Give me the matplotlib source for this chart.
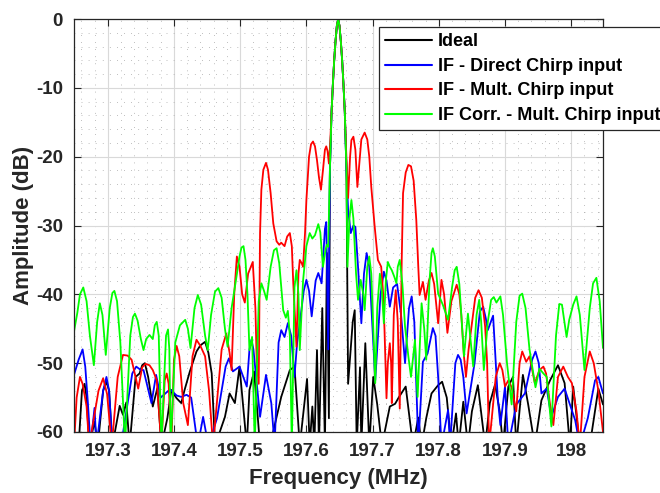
import matplotlib
matplotlib.use("Agg")
import matplotlib.pyplot as plt
from matplotlib.ticker import MultipleLocator, FixedLocator

plt.rcParams['font.family'] = ['Liberation Sans', 'DejaVu Sans']
plt.rcParams['font.weight'] = 'bold'
plt.rcParams['axes.unicode_minus'] = False

# Spectrum traces (frequency in MHz, amplitude in dB); values below -60 are nulls
freq_ideal = [197.249, 197.256, 197.261, 197.265, 197.268, 197.272, 197.280, 197.285,
              197.293, 197.298, 197.302, 197.307, 197.318, 197.323, 197.328, 197.333,
              197.342, 197.348, 197.352, 197.356, 197.361, 197.368, 197.375, 197.381,
              197.390, 197.396, 197.404, 197.411, 197.416, 197.424, 197.434, 197.440,
              197.447, 197.452, 197.457, 197.462, 197.477, 197.484, 197.492, 197.499,
              197.510, 197.514, 197.521, 197.530, 197.545, 197.562, 197.575, 197.582,
              197.590, 197.601, 197.605, 197.609, 197.612, 197.616, 197.619, 197.624,
              197.628, 197.631, 197.634, 197.6355, 197.638, 197.640, 197.642, 197.644,
              197.646, 197.648, 197.650, 197.652, 197.654, 197.656, 197.658, 197.6605,
              197.663, 197.670, 197.673, 197.676, 197.681, 197.683, 197.689, 197.695,
              197.701, 197.707, 197.714, 197.726, 197.734, 197.740, 197.750, 197.761,
              197.769, 197.774, 197.781, 197.789, 197.799, 197.805, 197.812, 197.819,
              197.826, 197.830, 197.837, 197.844, 197.850, 197.859, 197.870, 197.877,
              197.885, 197.892, 197.897, 197.905, 197.912, 197.917, 197.927, 197.935,
              197.945, 197.955, 197.968, 197.980, 197.990, 197.998, 198.003, 198.013,
              198.028, 198.041, 198.048]
amp_ideal = [-66, -62, -54, -53, -55, -62, -58.5, -62,
             -54, -52.7, -54, -62, -56.2, -57.5, -55.7, -62,
             -52, -51.5, -50.3, -50, -52, -56.3, -53.6, -62,
             -58, -53.9, -55.1, -55.8, -53.9, -51.2, -48.3, -47.4,
             -46.9, -48.5, -51.5, -62, -57.8, -54.4, -55.8, -50.5,
             -62, -53.9, -51.2, -62, -62, -54.9, -51, -50.5,
             -62, -52.3, -62, -56.3, -62, -48.1, -62, -42.0,
             -62, -34, -58, -22, -13.5, -9.5, -6, -3.2,
             -1.0, 0, -1.0, -3.2, -6, -9.5, -13.5, -22,
             -53, -44, -42.3, -62, -50.6, -62, -47.1, -62,
             -52, -56, -62, -56.3, -55.9, -54.9, -53.4, -62,
             -57.9, -62, -58, -54.4, -53.2, -52.7, -55, -62,
             -57.3, -62, -55.6, -62, -57, -53.2, -62, -55.8,
             -53.1, -57, -62, -53.4, -52, -62, -51.7, -56,
             -62, -55.4, -52.5, -50.3, -52.9, -62, -53.4, -62,
             -62, -53.7, -56]

freq_direct = [197.249, 197.256, 197.262, 197.266, 197.270, 197.274, 197.280, 197.283,
               197.293, 197.298, 197.302, 197.307, 197.320, 197.337, 197.343, 197.350,
               197.354, 197.366, 197.373, 197.380, 197.394, 197.404, 197.411, 197.419,
               197.426, 197.436, 197.444, 197.452, 197.465, 197.478, 197.483, 197.489,
               197.499, 197.510, 197.514, 197.517, 197.520, 197.522, 197.530, 197.539,
               197.547, 197.552, 197.558, 197.562, 197.567, 197.572, 197.577, 197.582,
               197.586, 197.590, 197.596, 197.600, 197.604, 197.608, 197.614, 197.618,
               197.623, 197.628, 197.630, 197.633, 197.6355, 197.638, 197.640, 197.642,
               197.644, 197.646, 197.648, 197.650, 197.652, 197.654, 197.656, 197.658,
               197.6605, 197.663, 197.667, 197.671, 197.674, 197.678, 197.683, 197.687,
               197.691, 197.695, 197.704, 197.712, 197.717, 197.721, 197.726, 197.731,
               197.737, 197.743, 197.749, 197.755, 197.759, 197.763, 197.769, 197.776,
               197.783, 197.791, 197.795, 197.799, 197.804, 197.814, 197.817, 197.825,
               197.829, 197.833, 197.837, 197.842, 197.854, 197.862, 197.867, 197.871,
               197.874, 197.882, 197.889, 197.893, 197.900, 197.905, 197.917, 197.930,
               197.941, 197.946, 197.951, 197.955, 197.963, 197.970, 197.980, 197.990,
               198.006, 198.013, 198.025, 198.036, 198.041, 198.048]
amp_direct = [-51.7, -49.5, -48.0, -50.5, -55.8, -62, -56.5, -62,
              -54, -52, -54, -62, -62, -51.5, -50.5, -51,
              -51, -55.8, -51.7, -55, -53.8, -54.7, -54.9, -54.6,
              -55, -62, -57.8, -62, -58, -50.5, -49.3, -51.2,
              -50.5, -53.4, -48, -46.6, -48, -50, -57.8, -51.7,
              -55.8, -62, -47, -45.2, -46.2, -44.2, -46, -52,
              -47, -44.2, -39.5, -37.9, -39.5, -43.2, -38, -36.9,
              -38.4, -30.5, -29.5, -48, -22, -13.5, -9.5, -6,
              -3.2, -1.0, 0, -1.0, -3.2, -6, -9.5, -13.5,
              -22, -27.7, -31.1, -30, -30.2, -36, -44.2, -37,
              -34.0, -36, -52.5, -40, -36.7, -38, -41.8, -39,
              -38.5, -43, -50, -42, -40.3, -44, -62, -49.8,
              -48.6, -44.9, -46, -52, -62, -56.8, -62, -50,
              -48.8, -49.5, -52, -57.3, -50, -42.5, -41.8, -43.5,
              -45.2, -43.1, -55, -59, -53.4, -62, -56, -54.4,
              -49.5, -48.3, -50, -54.4, -53.7, -57.8, -54.9, -53.7,
              -58.3, -62, -58, -52.5, -52, -54.4]

freq_mult = [197.249, 197.253, 197.258, 197.262, 197.268, 197.272, 197.286, 197.293,
             197.299, 197.306, 197.315, 197.323, 197.330, 197.336, 197.342, 197.346,
             197.352, 197.357, 197.363, 197.368, 197.374, 197.381, 197.386, 197.389,
             197.392, 197.396, 197.400, 197.404, 197.408, 197.414, 197.421, 197.428,
             197.434, 197.440, 197.447, 197.453, 197.459, 197.472, 197.479, 197.484,
             197.487, 197.491, 197.495, 197.499, 197.503, 197.507, 197.512, 197.519,
             197.523, 197.525, 197.528, 197.530, 197.532, 197.535, 197.539, 197.542,
             197.546, 197.550, 197.555, 197.559, 197.562, 197.567, 197.571, 197.575,
             197.578, 197.580, 197.585, 197.588, 197.590, 197.593, 197.595, 197.598,
             197.600, 197.604, 197.607, 197.610, 197.613, 197.616, 197.619, 197.622,
             197.625, 197.628, 197.630, 197.632, 197.634, 197.636, 197.638, 197.640,
             197.642, 197.644, 197.646, 197.648, 197.650, 197.652, 197.654, 197.656,
             197.658, 197.660, 197.663, 197.666, 197.668, 197.671, 197.674, 197.677,
             197.680, 197.683, 197.688, 197.692, 197.695, 197.698, 197.703, 197.708,
             197.713, 197.716, 197.718, 197.721, 197.723, 197.726, 197.728, 197.729,
             197.732, 197.735, 197.738, 197.741, 197.744, 197.746, 197.750, 197.754,
             197.758, 197.762, 197.766, 197.769, 197.771, 197.776, 197.780, 197.785,
             197.789, 197.793, 197.799, 197.804, 197.808, 197.813, 197.819, 197.827,
             197.831, 197.834, 197.838, 197.841, 197.845, 197.849, 197.855, 197.860,
             197.865, 197.870, 197.873, 197.876, 197.886, 197.892, 197.896, 197.900,
             197.905, 197.910, 197.917, 197.922, 197.926, 197.932, 197.937, 197.945,
             197.952, 197.958, 197.962, 197.968, 197.973, 197.980, 197.988, 197.995,
             198.001, 198.008, 198.013, 198.020, 198.028, 198.034, 198.041, 198.048]
amp_mult = [-62, -55, -52.0, -53, -56.3, -62, -54, -52.2,
            -54.5, -62, -52, -48.8, -48.9, -49.5, -52, -53.7,
            -50.6, -50.1, -50.3, -51.0, -52.5, -62, -52.5, -51.5,
            -53, -62, -49.5, -47.5, -49, -55.8, -59, -49,
            -46.6, -47.5, -49, -54, -62, -48, -45.7, -48.5,
            -51, -40, -34.5, -36, -40, -41.2, -37, -35.3,
            -42, -50, -53, -31.1, -24.8, -21.9, -20.9, -21.9,
            -25.3, -29.7, -32.3, -32.8, -32.5, -33, -31.6, -31.1,
            -33, -38, -47.6, -37, -35.0, -35.5, -36.0, -31,
            -26.3, -20, -18.2, -17.8, -18.5, -20.5, -23, -24.8,
            -22, -19, -18.5, -19.2, -21, -18, -13.5, -9.5,
            -6, -3.2, -1.0, 0, -1.0, -3.2, -6, -9.5,
            -13.5, -19, -26, -20, -17.6, -17.1, -19, -24.4,
            -21, -17.5, -16.5, -17.5, -20, -24.4, -30, -35.0,
            -36.0, -40, -45.2, -55.1, -50, -47.1, -50, -55.8,
            -43, -39.4, -44, -56.6, -35, -25.3, -22.3, -21.2,
            -21.4, -23.5, -29.2, -36, -40.1, -38.2, -40.8, -38,
            -36.9, -38.5, -44.2, -37.9, -40, -45.6, -41.0, -38.6,
            -40, -43, -49, -52, -48, -45, -40.5, -39.4,
            -40.5, -44.7, -50, -62, -52, -50, -51, -53.4,
            -52.5, -53.5, -57, -50, -48.3, -49.8, -49, -52.9,
            -51, -50.5, -51.5, -56, -59, -52, -50.5, -52,
            -52.9, -57, -62, -52, -48.3, -50, -54, -60]

freq_corr = [197.249, 197.254, 197.258, 197.263, 197.268, 197.273, 197.279, 197.284,
             197.288, 197.292, 197.297, 197.303, 197.307, 197.310, 197.314, 197.319,
             197.326, 197.334, 197.338, 197.341, 197.345, 197.350, 197.354, 197.358,
             197.363, 197.368, 197.371, 197.374, 197.377, 197.381, 197.388, 197.391,
             197.393, 197.395, 197.402, 197.409, 197.417, 197.421, 197.425, 197.431,
             197.436, 197.441, 197.447, 197.451, 197.456, 197.462, 197.467, 197.472,
             197.477, 197.481, 197.487, 197.494, 197.499, 197.502, 197.505, 197.508,
             197.511, 197.514, 197.518, 197.522, 197.528, 197.532, 197.536, 197.540,
             197.546, 197.551, 197.555, 197.559, 197.565, 197.569, 197.572, 197.575,
             197.578, 197.582, 197.585, 197.588, 197.590, 197.595, 197.600, 197.605,
             197.609, 197.613, 197.618, 197.621, 197.625, 197.629, 197.631, 197.633,
             197.6355, 197.638, 197.640, 197.642, 197.644, 197.646, 197.648, 197.650,
             197.652, 197.654, 197.656, 197.658, 197.6605, 197.662, 197.665, 197.668,
             197.671, 197.675, 197.678, 197.682, 197.686, 197.688, 197.692, 197.695,
             197.698, 197.701, 197.704, 197.707, 197.711, 197.714, 197.717, 197.720,
             197.723, 197.726, 197.729, 197.733, 197.736, 197.738, 197.741, 197.745,
             197.749, 197.754, 197.758, 197.764, 197.768, 197.774, 197.778, 197.781,
             197.786, 197.789, 197.791, 197.794, 197.799, 197.806, 197.814, 197.820,
             197.824, 197.827, 197.831, 197.838, 197.844, 197.852, 197.857, 197.861,
             197.864, 197.868, 197.874, 197.879, 197.883, 197.887, 197.893, 197.897,
             197.903, 197.910, 197.917, 197.922, 197.926, 197.931, 197.937, 197.946,
             197.952, 197.958, 197.963, 197.970, 197.977, 197.982, 197.986, 197.993,
             197.997, 198.003, 198.008, 198.013, 198.020, 198.028, 198.033, 198.038,
             198.043, 198.048]
amp_corr = [-45.4, -42.7, -40, -39.0, -41, -46, -50.3, -44,
            -41.3, -43, -48.8, -42, -39.8, -39.5, -41, -47,
            -62, -46, -43.3, -42.8, -43.8, -46.5, -48.1, -46.5,
            -45.9, -46.5, -44.5, -44.0, -46, -62, -46, -45.1,
            -48, -62, -47, -44.5, -43.7, -45, -47.8, -42,
            -40.1, -41.5, -46, -48.1, -43, -39.6, -39.1, -40.5,
            -45, -47.6, -42, -37.7, -34.5, -33.2, -33.0, -35,
            -40, -48.1, -46.2, -62, -41, -38.4, -39.5, -40.8,
            -36, -33.6, -33.3, -35.5, -42.3, -43.4, -42.4, -46,
            -62, -39, -36.5, -40, -48.1, -38, -33, -31.1,
            -31.9, -31.4, -29.8, -31, -36.0, -33.5, -32.8, -33.1,
            -22, -13.5, -9.5, -6, -3.2, -1.0, 0, -1.0,
            -3.2, -6, -9.5, -13.5, -22, -36, -29, -26.3,
            -29, -37, -40.8, -37.9, -40, -42.3, -36, -34.5,
            -37, -45, -52.9, -42, -37.0, -39.5, -44.2, -38,
            -35.3, -36, -36.5, -37.5, -38.4, -36, -35.0, -38.5,
            -44.7, -49, -52.0, -46.6, -54.9, -41.3, -45, -49.5,
            -38, -34, -33.3, -34.5, -39.9, -41.5, -43.7, -39,
            -36.5, -36.0, -38.5, -49, -42.8, -50.5, -43, -40.8,
            -44, -51, -44, -40.8, -40.4, -41.2, -40.3, -43,
            -50, -56, -44, -40.2, -39.9, -42, -48, -53.5,
            -50.8, -51.5, -52, -59.2, -46, -41.4, -41.5, -46.2,
            -43.7, -41.5, -40.3, -43, -51, -42, -38.4, -37.6,
            -41, -47.8]

series_labels = ['Ideal', 'IF - Direct Chirp input', 'IF - Mult. Chirp input',
                 'IF Corr. - Mult. Chirp input']
series_colors = ['#000000', '#0000ff', '#ff0000', '#00ff00']

x_ticks = [197.3, 197.4, 197.5, 197.6, 197.7, 197.8, 197.9, 198.0]
x_tick_labels = ['197.3', '197.4', '197.5', '197.6', '197.7', '197.8', '197.9', '198']
y_ticks = [-60, -50, -40, -30, -20, -10, 0]

fig = plt.figure(figsize=(6.6, 4.93), dpi=100)
ax = fig.add_axes([74 / 660, 61 / 493, 529 / 660, 413 / 493])

traces = [(freq_ideal, amp_ideal), (freq_direct, amp_direct),
          (freq_mult, amp_mult), (freq_corr, amp_corr)]
for (f, a), lab, col in zip(traces, series_labels, series_colors):
    ax.plot(f, a, color=col, lw=1.3, label=lab,
            solid_joinstyle='round', solid_capstyle='round')

ax.set_xlim(197.249, 198.048)
ax.set_ylim(-60, 0)
ax.xaxis.set_major_locator(FixedLocator(x_ticks))
ax.set_xticklabels(x_tick_labels)
ax.yaxis.set_major_locator(FixedLocator(y_ticks))
ax.xaxis.set_minor_locator(MultipleLocator(0.02))
ax.yaxis.set_minor_locator(MultipleLocator(2))

ax.grid(True, which='major', color='#d9d9d9', lw=0.8, ls='-')
ax.grid(True, which='minor', color='#a8a8a8', lw=0.6, ls=(0, (1, 7.5)))
ax.set_axisbelow(True)

ax.tick_params(which='major', direction='in', length=5, width=0.8,
               top=True, right=True, labelsize=13.5, colors='#262626', pad=8)
ax.tick_params(which='minor', length=0, top=True, right=True)
for lbl in ax.get_xticklabels() + ax.get_yticklabels():
    lbl.set_fontweight('bold')
for sp in ax.spines.values():
    sp.set_color('#262626')
    sp.set_linewidth(0.9)

ax.set_xlabel('Frequency (MHz)', fontsize=16, fontweight='bold', color='#262626', labelpad=6)
ax.set_ylabel('Amplitude (dB)', fontsize=16, fontweight='bold', color='#262626', labelpad=1)

leg = ax.legend(loc='upper left', bbox_to_anchor=(379 / 660, 1 - 27 / 493),
                bbox_transform=fig.transFigure, borderaxespad=0,
                prop={'weight': 'bold', 'size': 13}, frameon=True, fancybox=False,
                handlelength=2.6, handletextpad=0.3, labelspacing=0.42,
                borderpad=0.35, framealpha=1)
leg.get_frame().set_edgecolor('#262626')
leg.get_frame().set_linewidth(0.9)
for h in leg.get_lines():
    h.set_linewidth(1.5)

fig.savefig('out.png', dpi=100)
